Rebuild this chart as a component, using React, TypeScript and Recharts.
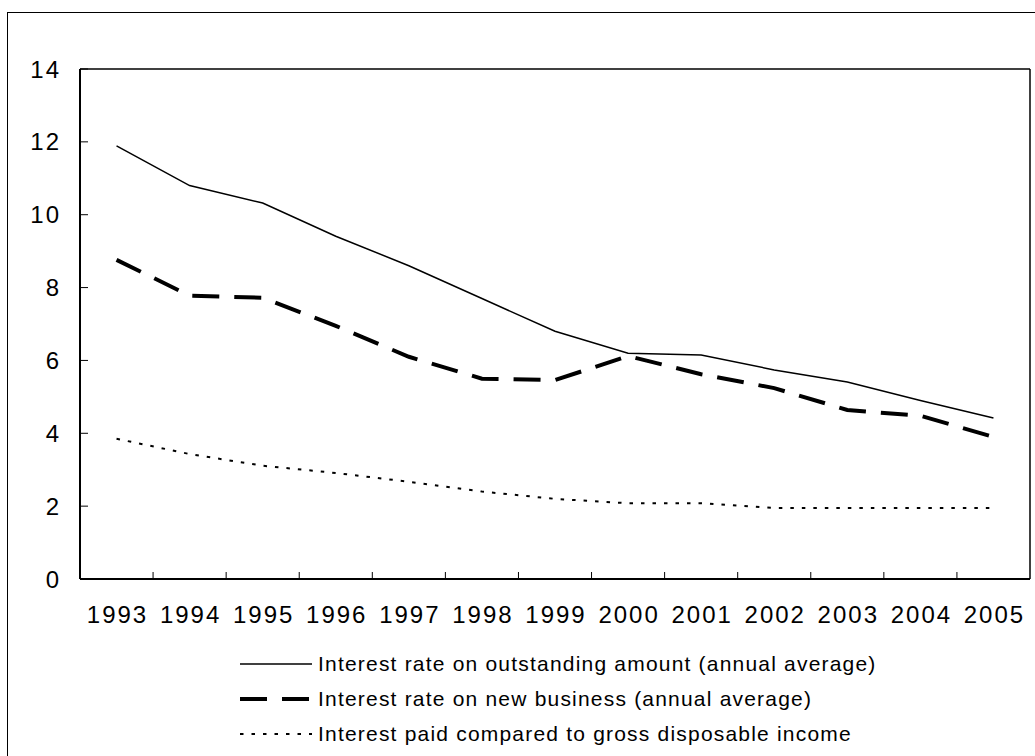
import React from 'react';
import { LineChart, Line, XAxis, YAxis, Legend } from 'recharts';

const years = ['1993', '1994', '1995', '1996', '1997', '1998', '1999', '2000', '2001', '2002', '2003', '2004', '2005'];
const outstandingRate = [11.89, 10.8, 10.32, 9.41, 8.6, 7.7, 6.8, 6.2, 6.15, 5.74, 5.41, 4.9, 4.42];
const newBusinessRate = [8.76, 7.78, 7.72, 6.95, 6.1, 5.5, 5.46, 6.12, 5.62, 5.24, 4.64, 4.48, 3.9];
const interestPaid = [3.85, 3.43, 3.11, 2.91, 2.67, 2.4, 2.2, 2.08, 2.08, 1.95, 1.95, 1.95, 1.95];
const yTicks = [0, 2, 4, 6, 8, 10, 12, 14];

const seriesInfo = [
  { key: 'outstanding', name: 'Interest rate on outstanding amount (annual average)', width: 1.5, dash: undefined },
  { key: 'newBusiness', name: 'Interest rate on new business (annual average)', width: 4, dash: '27 15' },
  { key: 'paid', name: 'Interest paid compared to gross disposable income', width: 2, dash: '3.5 8' },
];

const data = years.map((year, i) => ({
  year,
  outstanding: outstandingRate[i],
  newBusiness: newBusinessRate[i],
  paid: interestPaid[i],
}));

const FONT = '"Liberation Sans", Arial, sans-serif';
const tickStyle = { fontSize: 24, fill: '#000', fontFamily: FONT, letterSpacing: 2 };
const halfBand = 950 / 13 / 2;

// year label at the category centre, small tick mark on the boundary to its right
const YearTick = (props: any) => {
  const { x, y, payload, index } = props;
  return (
    <g>
      <text x={x + 1} y={y + 44} textAnchor="middle" style={tickStyle}>
        {payload.value}
      </text>
      {index < years.length - 1 && (
        <line x1={x + halfBand} x2={x + halfBand} y1={y} y2={y - 7} stroke="#000" strokeWidth={1} />
      )}
    </g>
  );
};

const LegendContent = () => (
  <div style={{ fontFamily: FONT, fontSize: 21, letterSpacing: 1.2, color: '#000' }}>
    {seriesInfo.map((s) => (
      <div key={s.key} style={{ display: 'flex', alignItems: 'center', height: 35 }}>
        <svg width={72} height={10} style={{ marginRight: 6 }}>
          <line x1={0} y1={5} x2={72} y2={5} stroke="#000" strokeWidth={s.width} strokeDasharray={s.dash} />
        </svg>
        <span>{s.name}</span>
      </div>
    ))}
  </div>
);

const App = () => {
  return (
    <div style={{ position: 'fixed', left: 0, top: 0, width: 1035, height: 756, overflow: 'hidden', background: '#fff' }}>
      <div style={{ position: 'absolute', left: 7, top: 12, width: 1200, height: 900, border: '1.5px solid #000' }} />
      <div style={{ position: 'absolute', left: 0, top: 0 }}>
        <LineChart width={1035} height={756} data={data} margin={{ top: 68, right: 4, left: 79, bottom: 176 }}>
          <XAxis
            dataKey="year"
            height={1}
            padding={{ left: halfBand, right: halfBand }}
            axisLine={{ stroke: '#000', strokeWidth: 2 }}
            tickLine={false}
            tickSize={0}
            tickMargin={0}
            interval={0}
            tick={<YearTick />}
          />
          <XAxis xAxisId="top" orientation="top" height={1} tick={false} tickLine={false} axisLine={{ stroke: '#000', strokeWidth: 1.5 }} />
          <YAxis
            domain={[0, 14]}
            ticks={yTicks}
            width={1}
            tickSize={-8}
            tickMargin={27}
            tick={tickStyle}
            axisLine={{ stroke: '#000', strokeWidth: 2 }}
            tickLine={{ stroke: '#000', strokeWidth: 1 }}
          />
          <YAxis yAxisId="right" orientation="right" width={1} tick={false} tickLine={false} axisLine={{ stroke: '#000', strokeWidth: 1.5 }} />
          {seriesInfo.map((s) => (
            <Line
              key={s.key}
              type="linear"
              dataKey={s.key}
              name={s.name}
              stroke="#000"
              strokeWidth={s.width}
              strokeDasharray={s.dash}
              dot={false}
              activeDot={false}
              isAnimationActive={false}
            />
          ))}
          <Legend
            layout="vertical"
            align="center"
            verticalAlign="middle"
            content={<LegendContent />}
            wrapperStyle={{ position: 'absolute', left: 240, top: 646, width: 760 }}
          />
        </LineChart>
      </div>
    </div>
  );
};

export default App;
